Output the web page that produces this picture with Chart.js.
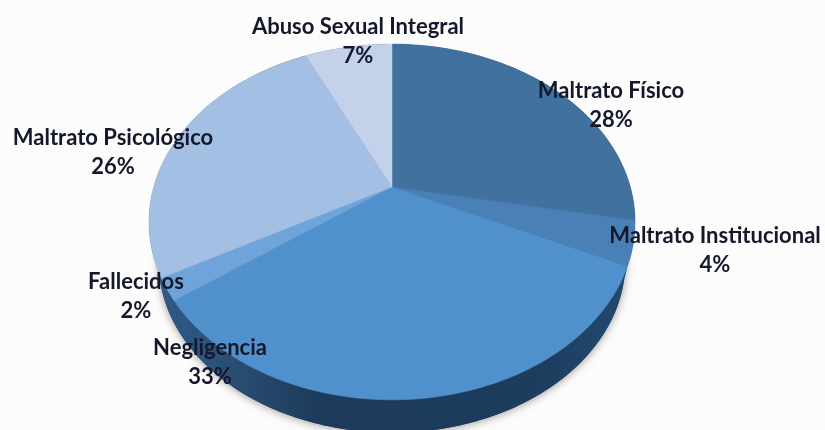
<!DOCTYPE html>
<html>
<head>
<meta charset="utf-8">
<style>
  html, body { margin: 0; padding: 0; background: #fcfcfc; overflow: hidden; }
  canvas { display: block; }
</style>
<script src="https://cdn.jsdelivr.net/npm/chart.js@4"></script>
</head>
<body>
<canvas id="pie" width="825" height="430"></canvas>
<script>
const categories = ["Maltrato Físico", "Maltrato Institucional", "Negligencia", "Fallecidos", "Maltrato Psicológico", "Abuso Sexual Integral"];
const percentages = [28, 4, 33, 2, 26, 7];
const sliceColors = ["#41719f", "#4a80b6", "#5091cd", "#6ea4da", "#a3bfe4", "#c3d2ea"];

// centre of each two-line label
const labelCenters = [[611, 91], [715, 236], [210, 348], [136, 282], [113, 138], [358, 27]];

// tilted disc: apex, half axes and perspective factor
const apex = { x: 392, y: 187 };
const tilt = { a: 238.3, b: 171, k: -0.1966, midY: 222, shrink: 0.96, drop: 40 };

function project(angle) {
  const x = Math.cos(angle), y = Math.sin(angle);
  const w = 1 + tilt.k * y;
  return { x: apex.x + tilt.a * x / w, y: apex.y + tilt.b * y / w };
}

// lower rim of the disc, slightly smaller because it sits further away
function lower(p) {
  return {
    x: apex.x + (p.x - apex.x) * tilt.shrink,
    y: tilt.midY + (p.y - tilt.midY) * tilt.shrink + tilt.drop
  };
}

function rimPoints(start, end) {
  const steps = Math.max(8, Math.ceil((end - start) * 60));
  const pts = [];
  for (let i = 0; i <= steps; i++) pts.push(project(start + (end - start) * i / steps));
  return pts;
}

const tiltedPie = {
  id: "tiltedPie",
  beforeDatasetDraw(chart) {
    const ctx = chart.ctx;
    const arcs = chart.getDatasetMeta(0).data;

    // soft shadow under the disc
    const outline = rimPoints(-Math.PI / 2, Math.PI * 1.5);
    ctx.save();
    ctx.shadowColor = "rgba(70,60,50,0.5)";
    ctx.shadowBlur = 8;
    ctx.shadowOffsetY = 1;
    ctx.fillStyle = "#1e3c5e";
    ctx.beginPath();
    outline.map(lower).forEach(p => ctx.lineTo(p.x, p.y));
    ctx.closePath();
    ctx.fill();
    ctx.restore();

    // side wall
    const wall = ctx.createLinearGradient(160, 0, 630, 0);
    wall.addColorStop(0, "#2f5b87");
    wall.addColorStop(0.14, "#2a4f75");
    wall.addColorStop(0.34, "#1e3a5a");
    wall.addColorStop(0.8, "#1d3c5e");
    wall.addColorStop(1, "#234a70");
    arcs.forEach(arc => {
      const pts = rimPoints(arc.startAngle, arc.endAngle);
      ctx.fillStyle = wall;
      ctx.beginPath();
      pts.forEach(p => ctx.lineTo(p.x, p.y));
      pts.slice().reverse().map(lower).forEach(p => ctx.lineTo(p.x, p.y));
      ctx.closePath();
      ctx.fill();
    });

    // top face
    arcs.forEach((arc, i) => {
      ctx.fillStyle = sliceColors[i];
      ctx.strokeStyle = sliceColors[i];
      ctx.lineWidth = 0.5;
      ctx.beginPath();
      ctx.moveTo(apex.x, apex.y);
      rimPoints(arc.startAngle, arc.endAngle).forEach(p => ctx.lineTo(p.x, p.y));
      ctx.closePath();
      ctx.fill();
      ctx.stroke();
    });

    // two-line labels
    ctx.fillStyle = "#14182a";
    ctx.font = "bold 22px Lato";
    ctx.textAlign = "center";
    ctx.textBaseline = "middle";
    categories.forEach((name, i) => {
      const c = labelCenters[i];
      ctx.fillText(name, c[0], c[1]);
      ctx.fillText(percentages[i] + "%", c[0], c[1] + 29);
    });
    return false;
  }
};

new Chart(document.getElementById("pie"), {
  type: "pie",
  data: {
    labels: categories,
    datasets: [{ data: percentages, backgroundColor: sliceColors, borderWidth: 0 }]
  },
  options: {
    responsive: false,
    animation: false,
    plugins: { legend: { display: false }, tooltip: { enabled: false } }
  },
  plugins: [tiltedPie]
});
</script>
</body>
</html>
